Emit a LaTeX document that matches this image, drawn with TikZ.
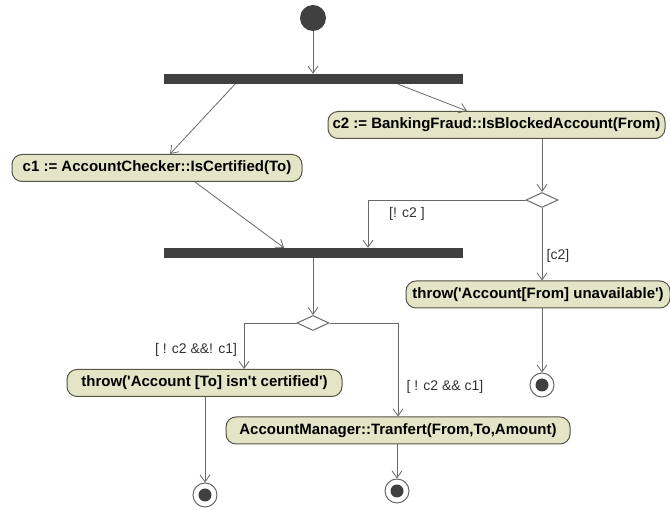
\documentclass[tikz,border=0pt]{standalone}
\usepackage{fontspec}
\setmainfont{Liberation Sans}[Ligatures=TeXOff]
\usetikzlibrary{arrows.meta,shapes.geometric,calc}
\definecolor{actfill}{RGB}{228,228,198}
\definecolor{actdraw}{RGB}{85,85,70}
\definecolor{barcol}{RGB}{64,64,64}
\definecolor{linecol}{RGB}{105,105,105}
\begin{document}
\begin{tikzpicture}[x=1pt,y=-1pt,
  act/.style={draw=actdraw, fill=actfill, line width=1pt, rounded corners=10pt,
    minimum height=27pt, inner xsep=3pt, inner ysep=0pt,
    font=\bfseries\fontsize{15}{18}\selectfont, text=black},
  forkbar/.style={fill=barcol, draw=none, minimum width=299pt, minimum height=10pt, inner sep=0pt},
  dec/.style={diamond, draw=linecol, fill=white, line width=1pt,
    minimum width=32pt, minimum height=15pt, inner sep=0pt},
  flow/.style={draw=linecol, line width=0.8pt, -{Straight Barb[length=7pt,width=10pt]}},
  guard/.style={font=\fontsize{14}{16}\selectfont, text=black!80, inner sep=0pt},
  final/.style={circle, draw=linecol, fill=white, line width=1pt, minimum size=24pt, inner sep=0pt,
    path picture={\fill[barcol] (path picture bounding box.center) circle (6.5pt);}},
  initial/.style={circle, fill=barcol, minimum size=26pt, inner sep=0pt},
]
\fill[white] (0,0) rectangle (670,510);
\useasboundingbox (0,0) rectangle (670,510);

\node[initial] (start) at (313,18) {};
\node[forkbar] (bar1) at (313.5,79) {};
\node[act, minimum width=337pt] (c2) at (496.5,125) {c2 := BankingFraud::IsBlockedAccount(From)};
\node[act, minimum width=290pt] (c1) at (157,168) {c1 := AccountChecker::IsCertified(To)};
\node[dec] (d1) at (542,200) {};
\node[forkbar] (bar2) at (313.5,253) {};
\node[act, minimum width=264pt] (t1) at (538,294.5) {throw('Account[From] unavailable')};
\node[dec] (d2) at (313,323) {};
\node[act, minimum width=275pt] (t2) at (204.5,383) {throw('Account [To] isn't certified')};
\node[act, minimum width=344pt] (am) at (398,430.5) {AccountManager::Tranfert(From,To,Amount)};
\node[final] (e1) at (542,385) {};
\node[final] (e2) at (205,495) {};
\node[final] (e3) at (397,491) {};

\node[guard] (g1) at (407,214) {[! c2 ]};
\node[guard] (g2) at (558,256) {[c2]};
\node[guard] (g3) at (196,350) {[ ! c2 \&\&! c1]};
\node[guard] (g4) at (445,387) {[ ! c2 \&\& c1]};

\draw[flow] (start) -- (start |- bar1.north);
\draw[flow] ([xshift=-78.5pt]bar1.south) -- ([xshift=13pt]c1.north);
\draw[flow] ([xshift=84.5pt]bar1.south) -- ([xshift=-29.5pt]c2.north);
\draw[flow] (c2.south -| d1.north) -- (d1.north);
\draw[flow] (d1.west) -| ([xshift=54.5pt]bar2.north);
\draw[flow] ([xshift=38pt]c1.south) -- ([xshift=-29.5pt]bar2.north);
\draw[flow] (d1.south) -- (d1.south |- t1.north);
\draw[flow] (t1.south -| e1) -- (e1.north);
\draw[flow] (bar2.south -| d2) -- (d2.north);
\draw[flow] (d2.west) -| ([xshift=39.5pt]t2.north);
\draw[flow] (d2.east) -| (am.north);
\draw[flow] (t2.south -| e2) -- (e2.north);
\draw[flow] (am.south -| e3) -- (e3.north);
\end{tikzpicture}
\end{document}
